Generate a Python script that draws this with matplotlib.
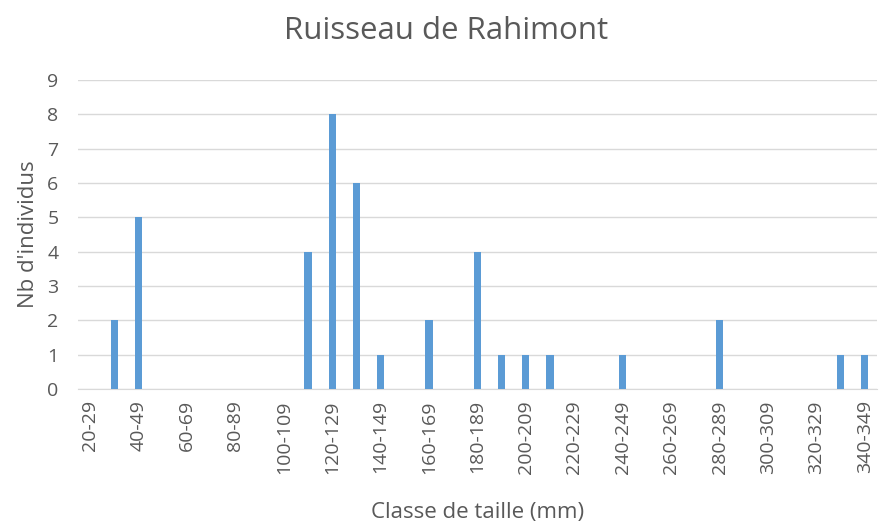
import numpy as np
import matplotlib
matplotlib.use("Agg")
import matplotlib.pyplot as plt

# size classes (mm) and counts
classes = [f"{a}-{a + 9}" for a in range(20, 350, 10)]
counts = [0, 2, 5, 0, 0, 0, 0, 0, 0, 4, 8, 6, 1, 0, 2, 0, 4, 1, 1, 1,
          0, 0, 1, 0, 0, 0, 2, 0, 0, 0, 0, 1, 1]
y_ticks = list(range(0, 10))

title = "Ruisseau de Rahimont"
x_label = "Classe de taille (mm)"
y_label = "Nb d'individus"

plt.rcParams['font.family'] = ['Open Sans', 'DejaVu Sans']
grey = '#595959'

fig = plt.figure(figsize=(8.93, 5.24), dpi=100)
ax = fig.add_axes([0.0873, 0.2576, 0.8947, 0.5894])

x = np.arange(len(classes))
ax.bar(x, counts, width=0.3, color='#5b9bd5', zorder=3)

ax.set_xlim(-0.5, len(classes) - 0.5)
ax.set_ylim(0, 9)
ax.set_yticks(y_ticks)
ax.set_xticks(x[::2])
ax.set_xticklabels(classes[::2], rotation=90, fontsize=14, color=grey)
ax.tick_params(axis='y', labelsize=14, labelcolor=grey, length=0, pad=14)
ax.tick_params(axis='x', length=0, pad=8)

ax.grid(axis='y', color='#d9d9d9', linewidth=1, zorder=0)
for s in ['top', 'right', 'left']:
    ax.spines[s].set_visible(False)
ax.spines['bottom'].set_color('#d9d9d9')

ax.set_xlabel(x_label, fontsize=16, color=grey, labelpad=20)
ax.set_ylabel(y_label, fontsize=16, color=grey, labelpad=6)
fig.suptitle(title, fontsize=22.5, color=grey, y=0.97)

fig.savefig("out.png", dpi=100)
